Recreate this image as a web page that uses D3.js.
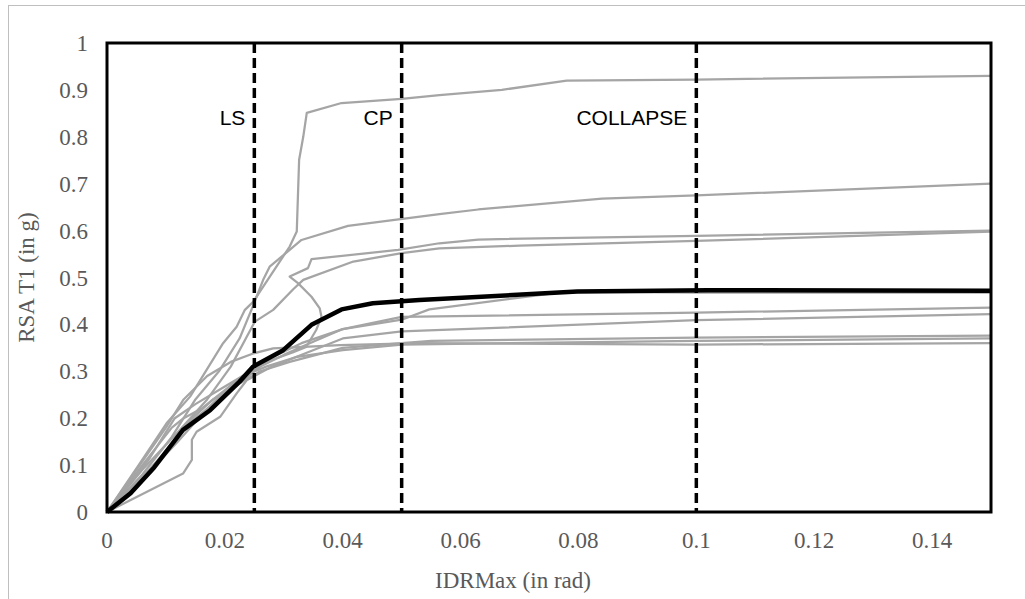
<!DOCTYPE html>
<html><head><meta charset="utf-8">
<script src="https://cdn.jsdelivr.net/npm/d3@7"></script>
<style>body{margin:0;background:#fff}svg{display:block}</style>
</head><body>
<svg id="c" width="1025" height="599"></svg>
<script>
// ---- data ----
const xTicks = [0, 0.02, 0.04, 0.06, 0.08, 0.1, 0.12, 0.14];
const yTicks = [0, 0.1, 0.2, 0.3, 0.4, 0.5, 0.6, 0.7, 0.8, 0.9, 1];
const limitNames = ["LS", "CP", "COLLAPSE"];
const limitValues = [0.025, 0.05, 0.1];
const recordA = [[0,0],[0.0056,0.104],[0.0101,0.189],[0.0141,0.246],[0.0197,0.36],[0.022,0.395],[0.0234,0.431],[0.0248,0.448],[0.031,0.566],[0.0322,0.598],[0.0326,0.751],[0.0333,0.80],[0.0339,0.851],[0.0398,0.872],[0.05,0.881],[0.0564,0.889],[0.067,0.90],[0.078,0.92],[0.1,0.922],[0.15,0.93]];
const recordB = [[0,0],[0.006,0.08],[0.011,0.16],[0.015,0.24],[0.019,0.3],[0.0225,0.37],[0.0248,0.44],[0.0265,0.495],[0.0276,0.523],[0.033,0.58],[0.0409,0.61],[0.0564,0.635],[0.063,0.645],[0.084,0.668],[0.1,0.675],[0.15,0.70]];
const recordC = [[0,0],[0.006,0.07],[0.012,0.15],[0.017,0.22],[0.022,0.28],[0.027,0.32],[0.0315,0.34],[0.0338,0.352],[0.0355,0.388],[0.0364,0.416],[0.0361,0.434],[0.0347,0.459],[0.0324,0.488],[0.031,0.502],[0.0341,0.52],[0.0347,0.539],[0.0494,0.559],[0.0564,0.573],[0.063,0.581],[0.1,0.589],[0.15,0.60]];
const recordD = [[0,0],[0.006,0.09],[0.012,0.17],[0.017,0.24],[0.021,0.31],[0.0251,0.406],[0.0282,0.431],[0.0316,0.475],[0.0333,0.495],[0.0418,0.534],[0.05,0.552],[0.0564,0.562],[0.07,0.568],[0.1,0.578],[0.15,0.598]];
const recordE = [[0,0],[0.005,0.06],[0.01,0.13],[0.014,0.19],[0.018,0.23],[0.022,0.27],[0.026,0.31],[0.03,0.335],[0.0344,0.36],[0.04,0.39],[0.05,0.41],[0.0547,0.432],[0.078,0.47],[0.1,0.468],[0.15,0.468]];
const recordF = [[0,0],[0.006,0.1],[0.011,0.18],[0.013,0.2],[0.016,0.22],[0.02,0.26],[0.024,0.3],[0.028,0.33],[0.033,0.36],[0.04,0.39],[0.05,0.416],[0.1,0.425],[0.15,0.436]];
const recordG = [[0,0],[0.0129,0.082],[0.0144,0.111],[0.0144,0.154],[0.0152,0.171],[0.0192,0.203],[0.022,0.253],[0.0237,0.281],[0.028,0.31],[0.034,0.34],[0.04,0.37],[0.05,0.385],[0.1,0.409],[0.15,0.422]];
const recordH = [[0,0],[0.008,0.1],[0.012,0.16],[0.0145,0.2],[0.018,0.24],[0.022,0.27],[0.026,0.3],[0.031,0.32],[0.04,0.35],[0.05,0.36],[0.055,0.365],[0.1,0.372],[0.15,0.376]];
const recordI = [[0,0],[0.007,0.11],[0.0115,0.2],[0.015,0.23],[0.019,0.26],[0.023,0.29],[0.027,0.31],[0.032,0.33],[0.04,0.345],[0.05,0.357],[0.1,0.365],[0.15,0.37]];
const recordJ = [[0,0],[0.005,0.09],[0.01,0.18],[0.013,0.24],[0.017,0.29],[0.021,0.32],[0.0248,0.338],[0.0282,0.349],[0.0395,0.356],[0.053,0.36],[0.1,0.357],[0.15,0.36]];
const meanCurve = [[0,0],[0.004,0.04],[0.008,0.095],[0.0129,0.175],[0.0175,0.217],[0.0225,0.278],[0.0248,0.31],[0.0299,0.345],[0.0347,0.399],[0.0398,0.432],[0.0451,0.445],[0.053,0.452],[0.0798,0.47],[0.102,0.473],[0.15,0.472]];
const records = [recordA, recordB, recordC, recordD, recordE, recordF, recordG, recordH, recordI, recordJ];

// ---- layout ----
const svg = d3.select("#c");
const L = 107, R = 991, T = 43, B = 512;
const x = d3.scaleLinear().domain([0, 0.15]).range([L, R]);
const y = d3.scaleLinear().domain([0, 1]).range([B, T]);

svg.append("rect").attr("x", 8.5).attr("y", 5.5).attr("width", 1030).attr("height", 600)
  .attr("fill", "#fff").attr("stroke", "#bfbfbf").attr("stroke-width", 1);

const serif = "'Liberation Serif','Times New Roman',serif";
const sans = "'Liberation Sans',Arial,sans-serif";

// y tick labels
svg.append("g").selectAll("text").data(yTicks).join("text")
  .attr("x", 88).attr("y", d => y(d)).attr("dy", "0.35em")
  .attr("text-anchor", "end").attr("font-family", serif).attr("font-size", 23)
  .attr("fill", "#595959").text(d => d3.format("~g")(d));
// x tick labels
svg.append("g").selectAll("text").data(xTicks).join("text")
  .attr("x", d => x(d)).attr("y", 548)
  .attr("text-anchor", "middle").attr("font-family", serif).attr("font-size", 23)
  .attr("fill", "#595959").text(d => d3.format("~g")(d));

// axis titles
svg.append("text").attr("transform", `translate(34,${(T + B) / 2}) rotate(-90)`)
  .attr("text-anchor", "middle").attr("font-family", serif).attr("font-size", 23)
  .attr("fill", "#595959").text("RSA T1 (in g)");
svg.append("text").attr("x", 513).attr("y", 588)
  .attr("text-anchor", "middle").attr("font-family", serif).attr("font-size", 23)
  .attr("fill", "#595959").text("IDRMax (in rad)");

const line = d3.line().x(d => x(d[0])).y(d => y(d[1]));

// gray records
svg.append("g").selectAll("path").data(records).join("path")
  .attr("d", line).attr("fill", "none").attr("stroke", "#a5a5a5")
  .attr("stroke-width", 2.25).attr("stroke-linejoin", "round");

// mean
svg.append("path").attr("d", line(meanCurve)).attr("fill", "none")
  .attr("stroke", "#000").attr("stroke-width", 4.5).attr("stroke-linejoin", "round");

// limit lines
svg.append("g").selectAll("line").data(limitValues).join("line")
  .attr("x1", d => x(d)).attr("x2", d => x(d)).attr("y1", y(1)).attr("y2", y(0))
  .attr("stroke", "#000").attr("stroke-width", 3.5).attr("stroke-dasharray", "10,5");
svg.append("g").selectAll("text").data(limitNames).join("text")
  .attr("x", (d, i) => x(limitValues[i]) - 9).attr("y", 125)
  .attr("text-anchor", "end").attr("font-family", sans).attr("font-size", 21)
  .attr("fill", "#000").text(d => d);

// plot border
svg.append("rect").attr("x", L).attr("y", T).attr("width", R - L).attr("height", B - T)
  .attr("fill", "none").attr("stroke", "#000").attr("stroke-width", 3);
</script>
</body></html>
